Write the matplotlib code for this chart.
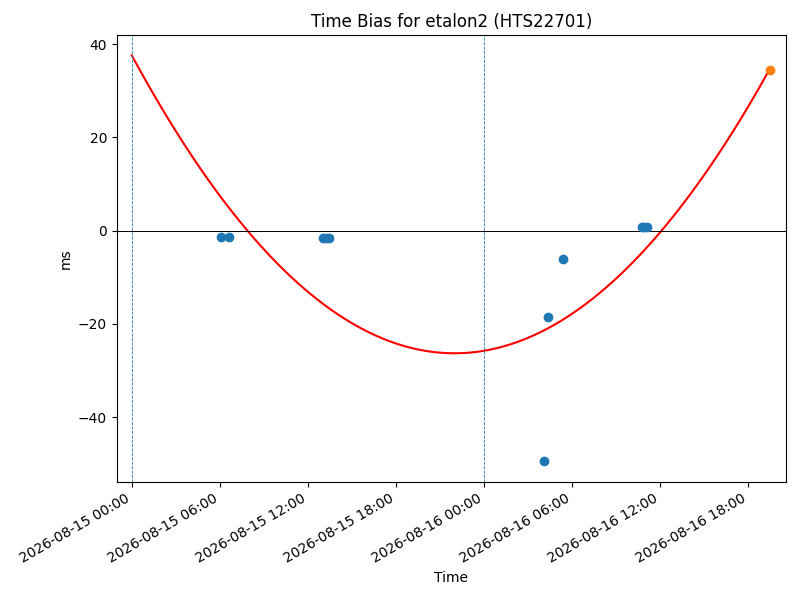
import numpy as np
import pandas as pd
import matplotlib
matplotlib.use("Agg")
import matplotlib.pyplot as plt
import matplotlib.dates as mdates

# Measured time bias points (timestamps, ms)
obs_times = [
    "2026-08-15 06:04", "2026-08-15 06:37",
    "2026-08-15 13:01", "2026-08-15 13:14", "2026-08-15 13:26",
    "2026-08-16 04:05", "2026-08-16 04:23", "2026-08-16 05:24",
    "2026-08-16 10:45", "2026-08-16 10:54", "2026-08-16 11:06",
]
obs_bias = [-1.3, -1.3, -1.5, -1.5, -1.5, -49.5, -18.5, -6.0, 0.85, 0.85, 0.85]

# Predicted point (orange)
pred_time = ["2026-08-16 19:31"]
pred_bias = [34.4]

# Quadratic fit coefficients (hours since start): a*(t-h)^2 + k
fit_start = "2026-08-15 00:00"
fit_end = "2026-08-16 19:31"
fit_a = 0.1320
fit_h = 22.0
fit_k = -26.3

# Day boundaries (dashed lines)
day_lines = ["2026-08-15 00:00", "2026-08-16 00:00"]

xlim = ["2026-08-14 22:59", "2026-08-16 20:34"]

fig, ax = plt.subplots(figsize=(8, 6), dpi=100)

t0 = pd.Timestamp(fit_start)
tgrid = pd.date_range(fit_start, fit_end, periods=300)
hrs = (tgrid - t0) / pd.Timedelta(hours=1)
curve = fit_a * (np.asarray(hrs) - fit_h) ** 2 + fit_k
ax.plot(tgrid, curve, color="red")

ax.scatter(pd.to_datetime(obs_times), obs_bias, color="#1f77b4", zorder=3)
ax.scatter(pd.to_datetime(pred_time), pred_bias, color="#ff7f0e", zorder=3)

ax.axhline(0, color="black", linewidth=0.7)
for d in day_lines:
    ax.axvline(pd.Timestamp(d), color="#1f77b4", linestyle="--", linewidth=0.6)

ax.set_xlim(pd.Timestamp(xlim[0]), pd.Timestamp(xlim[1]))
ax.xaxis.set_major_locator(mdates.HourLocator(byhour=[0, 6, 12, 18]))
ax.xaxis.set_major_formatter(mdates.DateFormatter("%Y-%m-%d %H:%M"))

ax.set_title("Time Bias for etalon2 (HTS22701)")
ax.set_xlabel("Time")
ax.set_ylabel("ms")
fig.autofmt_xdate()
fig.subplots_adjust(left=0.146, right=0.982, top=0.9417, bottom=0.197)
fig.savefig("out.png")
